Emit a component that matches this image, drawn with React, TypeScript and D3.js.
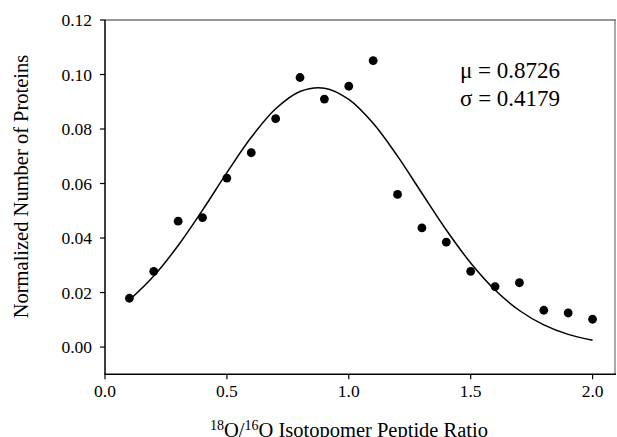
import React from "react";
import * as d3 from "d3";

const ratios = [0.1, 0.2, 0.3, 0.4, 0.5, 0.6, 0.7, 0.8, 0.9, 1.0, 1.1, 1.2, 1.3, 1.4, 1.5, 1.6, 1.7, 1.8, 1.9, 2.0];
const normalized = [0.0179, 0.0278, 0.0462, 0.0475, 0.062, 0.0713, 0.0838, 0.0989, 0.091, 0.0957, 0.1051, 0.056, 0.0437, 0.0385, 0.0278, 0.0222, 0.0236, 0.0135, 0.0125, 0.0102];
const fitValues = [0.01724, 0.02607, 0.03724, 0.05023, 0.06398, 0.07695, 0.08742, 0.09377, 0.095, 0.09088, 0.0821, 0.07004, 0.05643, 0.04293, 0.03085, 0.02093, 0.01341, 0.00812, 0.00464, 0.0025];
const xTicks = [0.0, 0.5, 1.0, 1.5, 2.0];
const yTicks = [0.0, 0.02, 0.04, 0.06, 0.08, 0.1, 0.12];

const W = 617, H = 437;
const L = 105, R = 615, T = 20, B = 374.3;
const FONT = "Liberation Serif, Times New Roman, serif";

export default function App() {
  const x = d3.scaleLinear().domain([0, 2.092]).range([L, R]);
  const y = d3.scaleLinear().domain([-0.01, 0.12]).range([B, T]);
  const line = d3.line<number>()
    .x((_, i) => x(ratios[i]))
    .y((d) => y(d))
    .curve(d3.curveCatmullRom);

  const ts = { fontFamily: FONT };

  return (
    <svg width={W} height={H} style={{ position: "absolute", left: 0, top: 0, background: "#fff" }}>
      <rect x={0} y={0} width={W} height={H} fill="#fff" />
      {/* frame */}
      <line x1={L} x2={R + 1} y1={T} y2={T} stroke="#333" strokeWidth={1.2} />
      <line x1={R} x2={R} y1={T} y2={B} stroke="#555" strokeWidth={1} />
      <line x1={L} x2={L} y1={T} y2={B + 0.75} stroke="#000" strokeWidth={1.5} />
      <line x1={L} x2={R + 1} y1={B} y2={B} stroke="#000" strokeWidth={1.5} />
      {yTicks.map((t) => (
        <g key={"y" + t}>
          <line x1={L - 5} x2={L} y1={y(t)} y2={y(t)} stroke="#000" strokeWidth={1.2} />
          <text style={ts} x={L - 13} y={y(t)} dy="0.35em" textAnchor="end" fontSize={17.5}>{t.toFixed(2)}</text>
        </g>
      ))}
      {xTicks.map((t) => (
        <g key={"x" + t}>
          <line x1={x(t)} x2={x(t)} y1={B} y2={B + 5} stroke="#000" strokeWidth={1.2} />
          <text style={ts} x={x(t)} y={397} textAnchor="middle" fontSize={17.5}>{t.toFixed(1)}</text>
        </g>
      ))}
      <path d={line(fitValues) || ""} fill="none" stroke="#000" strokeWidth={1.5} />
      {normalized.map((v, i) => (
        <circle key={i} cx={x(ratios[i])} cy={y(v)} r={4.4} fill="#000" />
      ))}
      <text style={ts} x={460} y={78} fontSize={23}>μ = 0.8726</text>
      <text style={ts} x={460} y={106} fontSize={23}>σ = 0.4179</text>
      <text style={ts} transform={`translate(28,186.5) rotate(-90)`} textAnchor="middle" fontSize={20.5}>Normalized Number of Proteins</text>
      <text style={ts} x={349} y={437} textAnchor="middle" fontSize={20.5}>
        <tspan fontSize={14} dy={-7}>18</tspan>
        <tspan dy={7}>O/</tspan>
        <tspan fontSize={14} dy={-7}>16</tspan>
        <tspan dy={7}>O Isotopomer Peptide Ratio</tspan>
      </text>
    </svg>
  );
}
